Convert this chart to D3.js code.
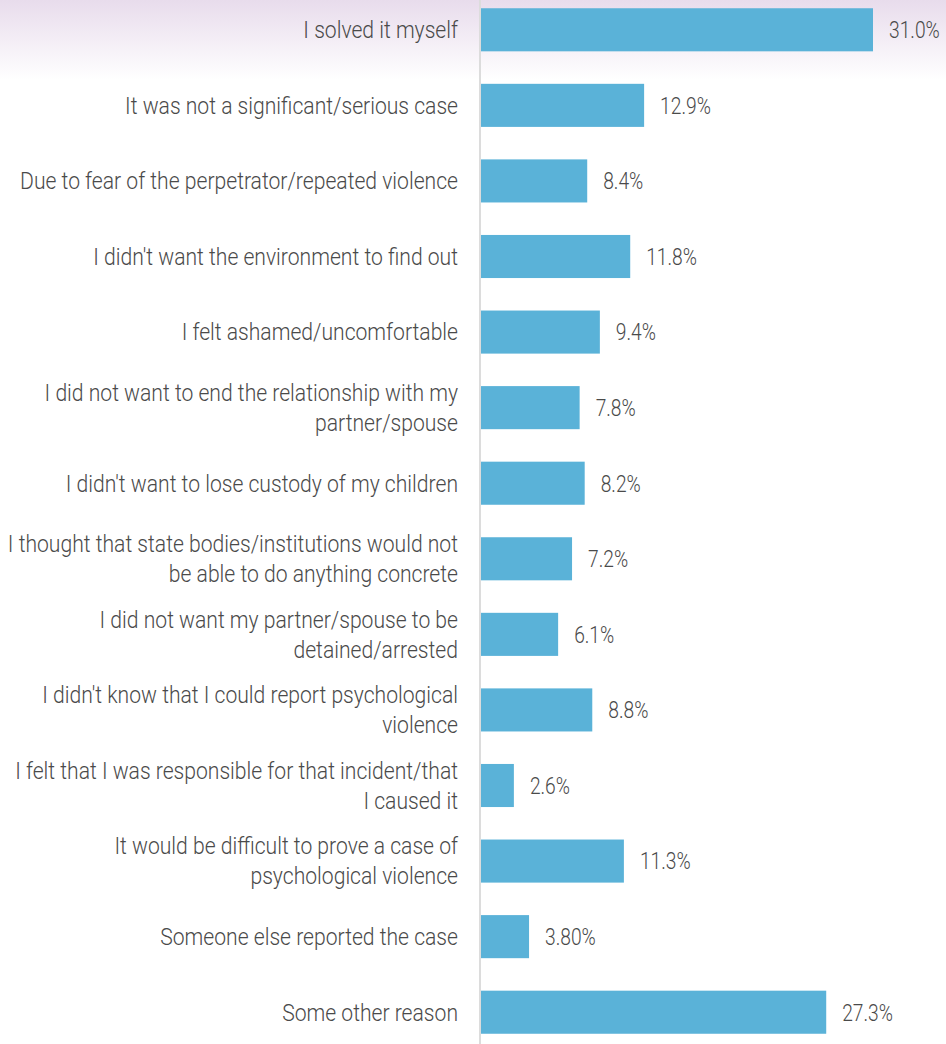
<!DOCTYPE html>
<html>
<head>
<meta charset="utf-8">
<script src="https://cdn.jsdelivr.net/npm/d3@7"></script>
<style>
  html, body { margin: 0; padding: 0; background: #fff; }
  svg { display: block; }
  .lbl, .val { font-family: Roboto, "Noto Sans", sans-serif; font-weight: 300; font-size: 24px; fill: #4a4a4a; }
</style>
</head>
<body>
<svg id="chart" width="946" height="1044"></svg>
<script>
// Reasons for not reporting (share of respondents, %)
const categories = [
  "I solved it myself",
  "It was not a significant/serious case",
  "Due to fear of the perpetrator/repeated violence",
  "I didn't want the environment to find out",
  "I felt ashamed/uncomfortable",
  "I did not want to end the relationship with my\npartner/spouse",
  "I didn't want to lose custody of my children",
  "I thought that state bodies/institutions would not\nbe able to do anything concrete",
  "I did not want my partner/spouse to be\ndetained/arrested",
  "I didn't know that I could report psychological\nviolence",
  "I felt that I was responsible for that incident/that\nI caused it",
  "It would be difficult to prove a case of\npsychological violence",
  "Someone else reported the case",
  "Some other reason"
];
const values = [31.0, 12.9, 8.4, 11.8, 9.4, 7.8, 8.2, 7.2, 6.1, 8.8, 2.6, 11.3, 3.80, 27.3];
const valueLabels = ["31.0%", "12.9%", "8.4%", "11.8%", "9.4%", "7.8%", "8.2%", "7.2%", "6.1%", "8.8%", "2.6%", "11.3%", "3.80%", "27.3%"];

const W = 946, H = 1044;
const axisX = 481;
const squeezeLabel = 0.88;   // narrow the type horizontally
const squeezeValue = 0.80;
const svg = d3.select("#chart");

// soft lavender wash across the top
const defs = svg.append("defs");
const grad = defs.append("linearGradient").attr("id", "topWash")
  .attr("x1", 0).attr("y1", 0).attr("x2", 0).attr("y2", 1);
grad.append("stop").attr("offset", "0%").attr("stop-color", "#e8dcec");
grad.append("stop").attr("offset", "100%").attr("stop-color", "#ffffff");
svg.append("rect").attr("x", 0).attr("y", 0).attr("width", W).attr("height", 80)
  .attr("fill", "url(#topWash)");

const x = d3.scaleLinear().domain([0, 31]).range([axisX, 873]);
const y = d3.scaleBand().domain(categories).range([-8, 1050])
  .paddingInner(0.43).paddingOuter(0.215);

// vertical baseline
svg.append("line")
  .attr("x1", axisX - 1).attr("x2", axisX - 1)
  .attr("y1", 0).attr("y2", H)
  .attr("stroke", "#dcdcdc").attr("stroke-width", 2);

const rows = categories.map((c, i) => ({ c, v: values[i], t: valueLabels[i] }));

svg.append("g").selectAll("rect").data(rows).join("rect")
  .attr("x", x(0))
  .attr("y", d => y(d.c))
  .attr("width", d => x(d.v) - x(0))
  .attr("height", y.bandwidth())
  .attr("fill", "#5ab2d8");

// value labels
svg.append("g").selectAll("g").data(rows).join("g")
  .attr("transform", d => `translate(${x(d.v) + 16},${y(d.c) + y.bandwidth() / 2}) scale(${squeezeValue},1)`)
  .append("text")
  .attr("class", "val")
  .attr("dy", "0.35em")
  .text(d => d.t);

// category labels, right-aligned against the baseline
const lineH = 30;
svg.append("g").selectAll("g").data(rows).join("g")
  .attr("transform", d => `translate(458,${y(d.c) + y.bandwidth() / 2}) scale(${squeezeLabel},1)`)
  .each(function (d) {
    const lines = d.c.split("\n");
    const off = -(lines.length - 1) * lineH / 2;
    d3.select(this).append("text")
      .attr("class", "lbl")
      .attr("text-anchor", "end")
      .selectAll("tspan").data(lines).join("tspan")
      .attr("x", 0)
      .attr("y", (l, i) => off + i * lineH)
      .attr("dy", "0.35em")
      .text(l => l);
  });
</script>
</body>
</html>
